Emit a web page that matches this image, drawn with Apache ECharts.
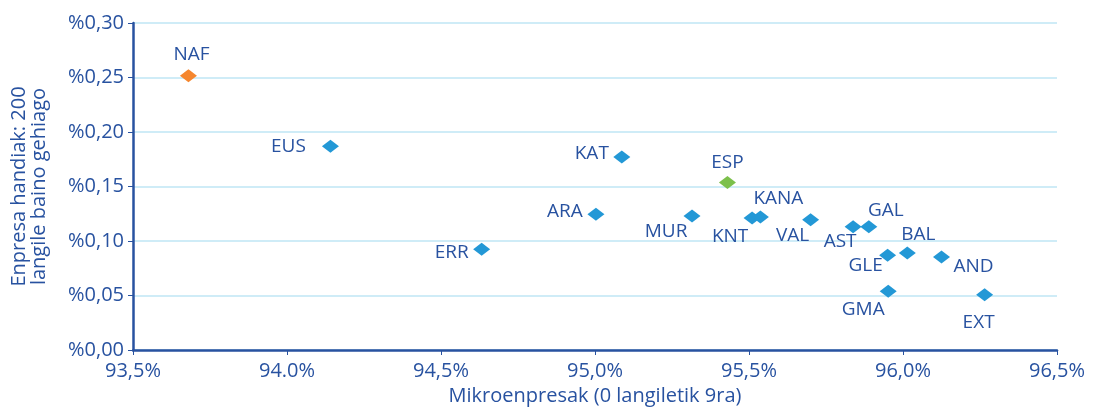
<!DOCTYPE html>
<html>
<head>
<meta charset="utf-8">
<script src="https://cdn.jsdelivr.net/npm/echarts@6/dist/echarts.min.js"></script>
<style>
    html, body { margin: 0; padding: 0; background: #fff; }
    #chart { width: 1102px; height: 407px; }
</style>
</head>
<body>
<div id="chart"></div>
<script>
// datuak (erkidegoak)
const regions = ['NAF', 'EUS', 'ERR', 'KAT', 'ESP', 'ARA', 'MUR', 'KNT', 'KANA', 'VAL', 'AST', 'GAL', 'GLE', 'BAL', 'AND', 'GMA', 'EXT'];
const microShare = [93.68, 94.141, 94.632, 95.087, 95.430, 95.003, 95.315, 95.510, 95.537, 95.700, 95.838, 95.889, 95.950, 96.014, 96.125, 95.952, 96.265];
const largeShare = [0.2517, 0.1869, 0.0924, 0.177, 0.1536, 0.1245, 0.123, 0.121, 0.122, 0.1196, 0.113, 0.113, 0.087, 0.089, 0.0853, 0.0538, 0.0508];
const xTickLabels = ['93,5%', '94.0%', '94,5%', '95,0%', '95,5%', '96,0%', '96,5%'];
const yTickLabels = ['%0,00', '%0,05', '%0,10', '%0,15', '%0,20', '%0,25', '%0,30'];

const textColor = '#2852a0';
const colors = { NAF: '#f5862e', ESP: '#7cc04b' };
// etiketaren zentroa puntuarekiko (px)
const labelOffset = {
    NAF: [3, -21], EUS: [-42, 0], ERR: [-30, 3], KAT: [-30, -3], ESP: [0, -20],
    ARA: [-31, -3], MUR: [-26, 16], KNT: [-22, 18], KANA: [18, -18], VAL: [-18, 16],
    AST: [-13, 15], GAL: [17, -16], GLE: [-22, 10], BAL: [11, -18], AND: [32, 10],
    GMA: [-25, 18], EXT: [-6, 28]
};

const points = regions.map((name, i) => ({
    name: name,
    value: [microShare[i], largeShare[i]],
    itemStyle: { color: colors[name] || '#2398d6', opacity: 1 },
    label: { offset: labelOffset[name] }
}));

const chart = echarts.init(document.getElementById('chart'));
chart.setOption({
    animation: false,
    textStyle: { fontFamily: 'Open Sans' },
    grid: { left: 133, right: 45, top: 23, bottom: 57, containLabel: false, outerBoundsMode: 'none' },
    xAxis: {
        type: 'value', min: 93.5, max: 96.5, interval: 0.5,
        name: 'Mikroenpresak (0 langiletik 9ra)', nameLocation: 'middle', nameGap: 35,
        nameTextStyle: { color: textColor, fontSize: 20 },
        axisLine: { show: true, lineStyle: { color: textColor, width: 2.5 } },
        axisTick: { show: true, length: 5, lineStyle: { color: textColor } },
        axisLabel: { color: textColor, fontSize: 20, margin: 11,
            formatter: v => xTickLabels[Math.round((v - 93.5) / 0.5)] },
        splitLine: { show: false }
    },
    yAxis: {
        type: 'value', min: 0, max: 0.3, interval: 0.05,
        name: 'Enpresa handiak: 200\nlangile baino gehiago', nameLocation: 'middle', nameGap: 84,
        nameTextStyle: { color: textColor, fontSize: 20, lineHeight: 20 },
        axisLine: { show: true, lineStyle: { color: textColor, width: 2.5 } },
        axisTick: { show: true, length: 5, lineStyle: { color: textColor } },
        axisLabel: { color: textColor, fontSize: 20, margin: 9,
            formatter: v => yTickLabels[Math.round(v / 0.05)] },
        splitLine: { lineStyle: { color: '#bfe6f5', width: 1.5 } }
    },
    series: [{
        type: 'scatter',
        symbol: 'diamond',
        symbolSize: [17, 13],
        data: points,
        label: {
            show: true,
            position: 'inside',
            formatter: '{b}',
            color: textColor,
            textBorderWidth: 0,
            fontSize: 19
        }
    }]
});
</script>
</body>
</html>
